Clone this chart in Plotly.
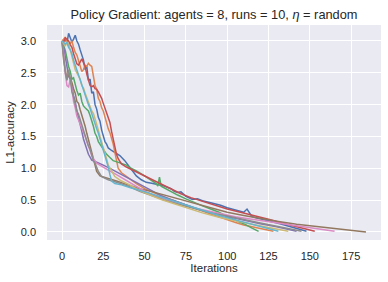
import plotly.graph_objects as go

# ---- data ----
blue_x = [0, 2, 3, 4, 5, 6, 7, 8, 9, 10, 11, 12, 13, 14, 15, 16, 17, 18, 19, 20, 21, 22, 23, 24, 25, 26, 27, 28, 30, 32, 35, 38, 41, 45, 48, 51, 55, 58, 62, 66, 68, 70, 72, 75, 79, 82, 85, 90, 96, 100, 105, 110, 112, 115, 118, 125, 132, 140, 148]
blue_y = [2.98, 3.02, 2.97, 3.12, 3.05, 2.98, 3.03, 3.09, 3.0, 2.95, 2.86, 2.78, 2.7, 2.55, 2.6, 2.38, 2.4, 2.18, 2.2, 2.0, 1.93, 1.8, 1.74, 1.6, 1.52, 1.42, 1.38, 1.32, 1.28, 1.25, 1.2, 1.12, 1.02, 0.88, 0.82, 0.78, 0.76, 0.74, 0.72, 0.68, 0.64, 0.62, 0.63, 0.56, 0.51, 0.52, 0.49, 0.46, 0.42, 0.38, 0.34, 0.31, 0.36, 0.24, 0.22, 0.18, 0.13, 0.07, 0.01]

orange_x = [0, 1, 2, 3, 4, 5, 6, 7, 8, 9, 10, 11, 12, 13, 14, 15, 16, 17, 18, 19, 20, 21, 22, 23, 24, 25, 26, 27, 28, 29, 30, 31, 32, 33, 34, 36, 40, 45, 50, 55, 60, 65, 70, 75, 80, 85, 90, 95, 100, 105, 110, 115, 120, 128]
orange_y = [3.0, 3.04, 3.06, 2.97, 2.92, 2.96, 3.0, 2.9, 2.82, 2.78, 2.7, 2.62, 2.52, 2.55, 2.62, 2.6, 2.65, 2.62, 2.6, 2.45, 2.3, 2.24, 2.1, 2.05, 1.95, 1.9, 1.8, 1.74, 1.62, 1.56, 1.48, 1.38, 1.25, 1.12, 1.0, 0.93, 0.85, 0.76, 0.68, 0.62, 0.57, 0.52, 0.47, 0.42, 0.37, 0.33, 0.28, 0.24, 0.19, 0.15, 0.11, 0.08, 0.05, 0.01]

green_x = [0, 1, 2, 3, 4, 5, 6, 7, 8, 9, 10, 11, 12, 13, 14, 15, 16, 17, 18, 19, 20, 21, 22, 23, 24, 27, 31, 35, 39, 42, 45, 50, 55, 57, 58, 59, 60, 64, 70, 75, 80, 85, 90, 95, 100, 105, 110, 115, 119]
green_y = [2.98, 2.93, 2.85, 2.7, 2.6, 2.52, 2.4, 2.42, 2.3, 2.22, 2.15, 2.18, 2.05, 1.98, 1.95, 1.92, 1.9, 1.83, 1.75, 1.66, 1.55, 1.5, 1.42, 1.38, 1.32, 1.22, 1.12, 1.08, 1.05, 1.0, 0.96, 0.88, 0.8, 0.76, 0.72, 0.86, 0.72, 0.66, 0.58, 0.52, 0.46, 0.41, 0.36, 0.31, 0.24, 0.19, 0.13, 0.06, 0.01]

red_x = [0, 1, 2, 3, 4, 5, 6, 7, 8, 9, 10, 11, 12, 13, 14, 15, 16, 17, 18, 19, 20, 21, 22, 23, 24, 25, 26, 27, 28, 29, 30, 31, 32, 33, 34, 36, 39, 43, 47, 52, 57, 62, 67, 72, 78, 85, 92, 100, 108, 115, 125, 135, 145, 153]
red_y = [3.0, 2.98, 3.05, 3.02, 3.0, 2.94, 2.9, 2.8, 2.7, 2.64, 2.62, 2.68, 2.72, 2.66, 2.6, 2.48, 2.38, 2.3, 2.28, 2.3, 2.25, 2.24, 2.2, 2.16, 2.1, 2.02, 1.95, 1.87, 1.82, 1.72, 1.58, 1.45, 1.33, 1.22, 1.15, 1.07, 1.02, 0.97, 0.92, 0.85, 0.79, 0.72, 0.66, 0.6, 0.54, 0.48, 0.42, 0.36, 0.31, 0.26, 0.2, 0.13, 0.07, 0.01]

purple_x = [0, 1, 2, 3, 4, 5, 6, 7, 8, 9, 10, 11, 12, 13, 14, 15, 16, 18, 21, 25, 29, 34, 39, 45, 50, 55, 60, 65, 70, 75, 80, 90, 100, 110, 120, 130, 142]
purple_y = [2.98, 2.9, 2.75, 2.6, 2.45, 2.4, 2.3, 2.14, 2.05, 1.9, 1.8, 1.72, 1.58, 1.46, 1.38, 1.3, 1.22, 1.13, 1.1, 1.05, 1.0, 0.93, 0.86, 0.78, 0.7, 0.63, 0.57, 0.52, 0.47, 0.42, 0.38, 0.3, 0.24, 0.18, 0.13, 0.08, 0.01]

brown_x = [0, 1, 2, 3, 4, 5, 6, 7, 8, 9, 10, 11, 12, 13, 14, 15, 16, 17, 18, 19, 20, 21, 23, 27, 33, 40, 47, 55, 62, 70, 80, 90, 100, 110, 120, 130, 142, 155, 170, 184]
brown_y = [3.0, 2.7, 2.55, 2.4, 2.48, 2.42, 2.35, 2.25, 2.18, 2.05, 2.02, 1.92, 1.84, 1.75, 1.66, 1.55, 1.45, 1.32, 1.25, 1.12, 1.02, 0.95, 0.88, 0.85, 0.8, 0.74, 0.68, 0.63, 0.58, 0.52, 0.45, 0.38, 0.31, 0.26, 0.21, 0.17, 0.12, 0.08, 0.04, 0.0]

pink_x = [0, 1, 2, 3, 4, 5, 6, 7, 8, 9, 10, 11, 12, 13, 14, 15, 16, 17, 18, 19, 21, 24, 28, 33, 38, 43, 50, 57, 65, 75, 85, 95, 105, 115, 125, 135, 145, 155, 165]
pink_y = [3.0, 2.8, 2.5, 2.3, 2.28, 2.4, 2.25, 2.05, 1.95, 1.82, 1.76, 1.7, 1.62, 1.58, 1.5, 1.42, 1.36, 1.28, 1.2, 1.15, 1.08, 1.03, 0.97, 0.9, 0.82, 0.74, 0.64, 0.56, 0.49, 0.41, 0.35, 0.29, 0.24, 0.2, 0.16, 0.12, 0.08, 0.05, 0.01]

gray_x = [0, 1, 2, 3, 4, 5, 6, 7, 8, 9, 10, 11, 12, 13, 14, 15, 16, 17, 18, 19, 20, 22, 24, 28, 33, 40, 47, 55, 62, 70, 80, 90, 100, 110, 120, 130, 138, 145]
gray_y = [3.0, 2.75, 2.5, 2.38, 2.55, 2.4, 2.2, 2.12, 2.0, 1.9, 1.85, 1.76, 1.68, 1.6, 1.5, 1.44, 1.35, 1.3, 1.22, 1.12, 1.08, 0.95, 0.87, 0.82, 0.78, 0.72, 0.64, 0.56, 0.5, 0.44, 0.37, 0.3, 0.25, 0.19, 0.14, 0.09, 0.05, 0.01]

olive_x = [0, 1, 2, 3, 4, 5, 6, 7, 8, 9, 10, 11, 12, 13, 14, 15, 16, 17, 18, 19, 20, 21, 22, 23, 24, 25, 26, 27, 28, 30, 32, 36, 41, 47, 53, 60, 67, 75, 85, 95, 105, 115, 125, 137]
olive_y = [3.0, 2.96, 2.92, 2.98, 2.95, 2.86, 2.75, 2.66, 2.55, 2.5, 2.45, 2.4, 2.3, 2.26, 2.18, 2.1, 2.05, 1.97, 1.9, 1.86, 1.78, 1.7, 1.6, 1.5, 1.42, 1.33, 1.25, 1.15, 1.05, 0.95, 0.87, 0.8, 0.74, 0.65, 0.58, 0.51, 0.45, 0.38, 0.3, 0.23, 0.17, 0.12, 0.07, 0.01]

cyan_x = [0, 1, 2, 3, 4, 5, 6, 7, 8, 9, 10, 11, 12, 13, 14, 15, 16, 17, 18, 19, 20, 21, 22, 23, 24, 25, 26, 27, 28, 29, 30, 32, 36, 41, 47, 53, 60, 67, 75, 85, 95, 105, 115, 125, 131]
cyan_y = [3.0, 2.97, 2.95, 2.98, 2.9, 2.86, 2.8, 2.7, 2.62, 2.55, 2.45, 2.4, 2.3, 2.22, 2.15, 2.08, 2.0, 1.94, 1.85, 1.78, 1.7, 1.62, 1.55, 1.46, 1.38, 1.3, 1.22, 1.12, 1.02, 0.9, 0.8, 0.76, 0.74, 0.7, 0.66, 0.61, 0.55, 0.49, 0.42, 0.34, 0.26, 0.19, 0.12, 0.06, 0.01]

series = [
    (blue_x, blue_y, "#4C72B0"),
    (orange_x, orange_y, "#DD8452"),
    (green_x, green_y, "#55A868"),
    (red_x, red_y, "#C44E52"),
    (purple_x, purple_y, "#8172B3"),
    (brown_x, brown_y, "#937860"),
    (pink_x, pink_y, "#DA8BC3"),
    (gray_x, gray_y, "#8C8C8C"),
    (olive_x, olive_y, "#CCB974"),
    (cyan_x, cyan_y, "#64B5CD"),
]

x_ticks = [0, 25, 50, 75, 100, 125, 150, 175]
y_ticks = [0.0, 0.5, 1.0, 1.5, 2.0, 2.5, 3.0]

fig = go.Figure()
for xs, ys, c in series:
    fig.add_trace(go.Scatter(x=xs, y=ys, mode="lines",
                             line=dict(color=c, width=1.5), showlegend=False))

font_family = "Liberation Sans, Arial, DejaVu Sans, sans-serif"
fig.update_layout(
    width=388, height=282,
    margin=dict(l=47, r=7, t=25, b=42, autoexpand=False),
    paper_bgcolor="white", plot_bgcolor="#EAEAF2",
    font=dict(family=font_family, size=11, color="#262626"),
    hovermode=False,
    title=dict(text="Policy Gradient: agents = 8, runs = 10, <i>η</i> = random",
               x=0.5, xref="paper", y=0.947, yref="container", yanchor="middle",
               xanchor="center", font=dict(size=12.8, color="#262626")),
    xaxis=dict(range=[-9.08, 193.1], tickvals=x_ticks,
               ticktext=[str(v) for v in x_ticks], ticklabelstandoff=8,
               showgrid=True, gridcolor="white", gridwidth=1, zeroline=False,
               showline=False, ticks="", automargin=False,
               title=dict(text="Iterations", font=dict(size=11.5), standoff=1)),
    yaxis=dict(range=[-0.126, 3.251], tickvals=y_ticks,
               ticktext=[f"{v:.1f}" for v in y_ticks], ticklabelstandoff=10,
               showgrid=True, gridcolor="white", gridwidth=1, zeroline=False,
               showline=False, ticks="", automargin=False,
               title=dict(text="L1-accuracy", font=dict(size=11.5), standoff=3)),
)
fig.write_html("out.html", config={"displayModeBar": False, "staticPlot": True},
               post_script="document.body.style.margin='0';document.body.style.padding='0';")
